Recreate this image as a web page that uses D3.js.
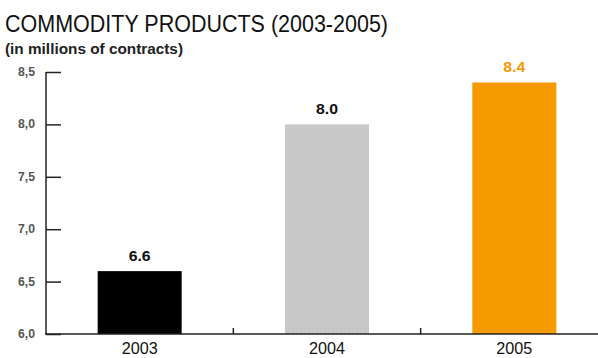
<!DOCTYPE html>
<html>
<head>
<meta charset="utf-8">
<script src="https://cdn.jsdelivr.net/npm/d3@7"></script>
<style>
  html, body { margin: 0; padding: 0; background: #fff; }
  svg { display: block; }
  text { font-family: "Liberation Sans Narrow", "Arial Narrow", "Liberation Sans", Arial, sans-serif; }
</style>
</head>
<body>
<svg id="chart" width="598" height="358"></svg>
<script>
// Commodity products volume, millions of contracts
const years = ["2003", "2004", "2005"];
const volumes = [6.6, 8.0, 8.4];
const valueLabels = ["6.6", "8.0", "8.4"];
const yTicks = [6.0, 6.5, 7.0, 7.5, 8.0, 8.5];
const yTickLabels = ["6,0", "6,5", "7,0", "7,5", "8,0", "8,5"];
const barColors = ["#000000", "url(#stipple)", "#f59a00"];
const labelColors = ["#111111", "#111111", "#f59a00"];

const svg = d3.select("#chart");

// Stippled grey fill for the middle bar
const defs = svg.append("defs");
const pat = defs.append("pattern")
  .attr("id", "stipple")
  .attr("patternUnits", "userSpaceOnUse")
  .attr("width", 4).attr("height", 4);
pat.append("rect").attr("width", 4).attr("height", 4).attr("fill", "#cacaca");
pat.append("rect").attr("x", 0).attr("y", 0).attr("width", 1).attr("height", 1).attr("fill", "#b9b9b9");
pat.append("rect").attr("x", 2).attr("y", 2).attr("width", 1).attr("height", 1).attr("fill", "#bdbdbd");

const axisX = 46, baseY = 334;
const x = d3.scaleBand().domain(years).range([axisX, 608]).paddingInner(0).paddingOuter(0);
const y = d3.scaleLinear().domain([6.0, 8.5]).range([baseY, 72]);
const barW = 84;

// Title block
svg.append("text")
  .attr("x", 5).attr("y", 32)
  .attr("font-size", 24)
  .attr("fill", "#111")
  .attr("textLength", 383).attr("lengthAdjust", "spacingAndGlyphs")
  .text("COMMODITY PRODUCTS (2003-2005)");
svg.append("text")
  .attr("x", 5).attr("y", 54)
  .attr("font-size", 15)
  .attr("font-weight", "bold")
  .attr("fill", "#222")
  .attr("textLength", 178).attr("lengthAdjust", "spacingAndGlyphs")
  .text("(in millions of contracts)");

// Bars
svg.selectAll("rect.bar")
  .data(years)
  .join("rect")
  .attr("class", "bar")
  .attr("x", (d) => x(d) + x.bandwidth() / 2 - barW / 2)
  .attr("width", barW)
  .attr("y", (d, i) => y(volumes[i]))
  .attr("height", (d, i) => baseY - y(volumes[i]))
  .attr("fill", (d, i) => barColors[i]);

// Value labels above bars
svg.selectAll("text.val")
  .data(years)
  .join("text")
  .attr("class", "val")
  .attr("x", (d) => x(d) + x.bandwidth() / 2 - 11)
  .attr("y", (d, i) => y(volumes[i]) - 10)
  .attr("font-size", 14)
  .attr("font-weight", "bold")
  .attr("fill", (d, i) => labelColors[i])
  .attr("textLength", 22).attr("lengthAdjust", "spacingAndGlyphs")
  .text((d, i) => valueLabels[i]);

// Y axis with inward ticks
const yAxis = d3.axisRight(y)
  .tickValues(yTicks)
  .tickSize(15)
  .tickFormat("");
const gy = svg.append("g").attr("transform", `translate(${axisX},0)`).call(yAxis);
gy.select(".domain").remove();
gy.selectAll(".tick line").attr("stroke", "#222").attr("stroke-width", 1.5);
svg.append("line")
  .attr("x1", axisX).attr("x2", axisX)
  .attr("y1", y(8.5)).attr("y2", baseY)
  .attr("stroke", "#222").attr("stroke-width", 1.5);

svg.selectAll("text.ytick")
  .data(yTicks)
  .join("text")
  .attr("class", "ytick")
  .attr("x", 18)
  .attr("y", (d) => y(d) + 4)
  .attr("font-size", 12)
  .attr("font-weight", "bold")
  .attr("fill", "#555")
  .attr("textLength", 17).attr("lengthAdjust", "spacingAndGlyphs")
  .text((d, i) => yTickLabels[i]);

// X axis: category labels centred in each band
const xAxis = d3.axisBottom(x).tickSize(0).tickPadding(0);
const gx = svg.append("g").attr("transform", `translate(0,${baseY})`).call(xAxis);
gx.select(".domain").remove();
gx.selectAll(".tick text")
  .attr("dy", null)
  .attr("y", 20)
  .attr("x", -18)
  .attr("text-anchor", "start")
  .attr("font-size", 17)
  .attr("fill", "#111")
  .attr("textLength", 36).attr("lengthAdjust", "spacingAndGlyphs")
  .attr("font-family", "'Liberation Sans Narrow', 'Liberation Sans', Arial, sans-serif");

svg.append("line")
  .attr("x1", axisX - 1).attr("x2", 598)
  .attr("y1", baseY).attr("y2", baseY)
  .attr("stroke", "#222").attr("stroke-width", 1.5);

svg.selectAll("line.sep")
  .data(years.slice(1))
  .join("line")
  .attr("class", "sep")
  .attr("x1", (d) => x(d)).attr("x2", (d) => x(d))
  .attr("y1", baseY - 6).attr("y2", baseY)
  .attr("stroke", "#222").attr("stroke-width", 1.5);
</script>
</body>
</html>
